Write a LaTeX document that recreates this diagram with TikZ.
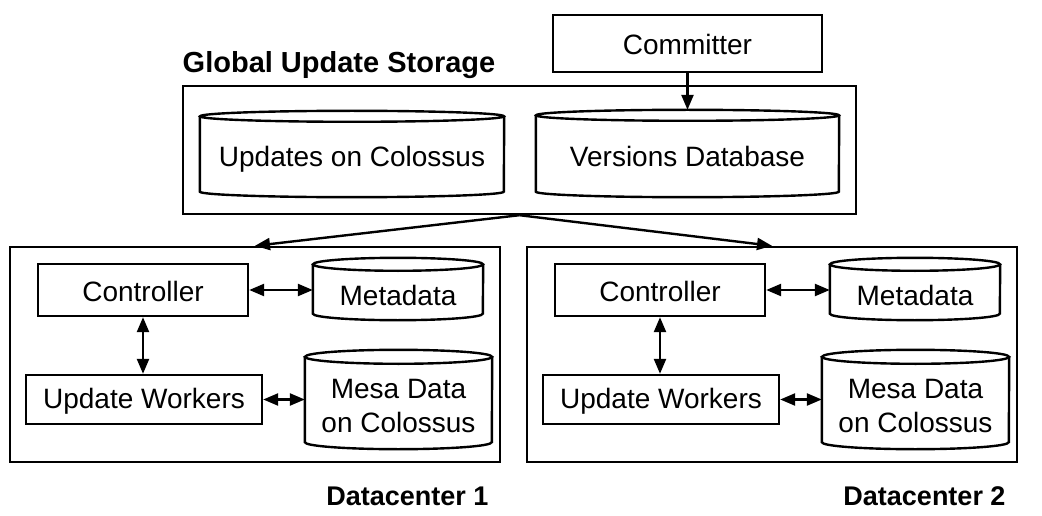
\documentclass[tikz,border=0pt]{standalone}
\usepackage{fontspec}
\setmainfont{Liberation Sans}
\usetikzlibrary{arrows.meta}
\newcommand\mycyl[3]{%
  \draw[line] ([yshift=-#3]#1.north) ellipse [x radius=#2, y radius=#3];
  \draw[line] ([yshift=-#3]#1.north west) -- ([yshift=#3]#1.south west)
     arc[start angle=180, end angle=360, x radius=#2, y radius=#3] -- ([yshift=-#3]#1.north east);
}
\begin{document}
\begin{tikzpicture}[x=1pt,y=-1pt,
  line/.style={line width=2.4pt},
  box/.style={draw, line width=2.4pt, inner sep=0pt, font=\fontsize{28}{34}\selectfont, text height=29pt, text depth=6pt},
  frame/.style={draw, line width=2.4pt, inner sep=0pt},
  cylnode/.style={inner sep=0pt, align=center, font=\fontsize{28}{34}\selectfont, text height=32pt, text depth=6pt},
  arr/.style={line width=2.4pt, -{Triangle[length=15pt,width=12pt]}},
  darr/.style={line width=2.4pt, {Triangle[length=15pt,width=12pt]}-{Triangle[length=15pt,width=12pt]}},
  lbl/.style={font=\bfseries\fontsize{29}{34}\selectfont, inner sep=0pt, anchor=base},
  dclbl/.style={lbl, font=\bfseries\fontsize{27}{34}\selectfont}
]
\useasboundingbox (0,0) rectangle (1042,516);

% Global update storage
\node[frame, minimum width=673pt, minimum height=128pt] (gus) at (519.5,150) {};
\node[lbl] (guslabel) at (339,73) {Global Update Storage};
\node[box, minimum width=269pt, minimum height=57pt] (committer) at (687.5,43.5) {Committer};
\node[cylnode, minimum width=304pt, minimum height=86pt] (upd) at (352,154) {Updates on Colossus};
\node[cylnode, minimum width=303pt, minimum height=87pt] (ver) at (687.5,153.5) {Versions Database};
\mycyl{upd}{152pt}{5.5pt}
\mycyl{ver}{151.5pt}{5.5pt}
\draw[arr] (committer.south) -- (ver.north);

% Datacenters
\foreach \i/\dx in {1/0,2/517}{
  \begin{scope}[xshift=\dx pt]
  \node[frame, minimum width=490pt, minimum height=215pt] (dc\i) at (255,354.5) {};
  \node[box, minimum width=210pt, minimum height=52pt] (ctrl\i) at (143,290) {Controller};
  \node[cylnode, minimum width=170pt, minimum height=62pt, text height=38pt] (meta\i) at (398,289) {Metadata};
  \node[box, minimum width=236pt, minimum height=49pt, text height=24pt] (uw\i) at (144,399.5) {Update Workers};
  \node[cylnode, minimum width=187pt, minimum height=99pt, text height=72pt] (mesa\i) at (398.5,399.5) {Mesa Data\\on Colossus};
  \node[dclbl] (dclabel\i) at (407.5,505) {Datacenter \i};
  \end{scope}
  \mycyl{meta\i}{85pt}{6.5pt}
  \mycyl{mesa\i}{93.5pt}{7pt}
  \draw[darr] (ctrl\i.east) -- (ctrl\i.east -| meta\i.west);
  \draw[darr] (uw\i.east) -- (uw\i.east -| mesa\i.west);
  \draw[darr] (ctrl\i.south) -- (uw\i.north -| ctrl\i.south);
  \draw[arr] (gus.south) -- (dc\i.north);
}
\end{tikzpicture}
\end{document}
